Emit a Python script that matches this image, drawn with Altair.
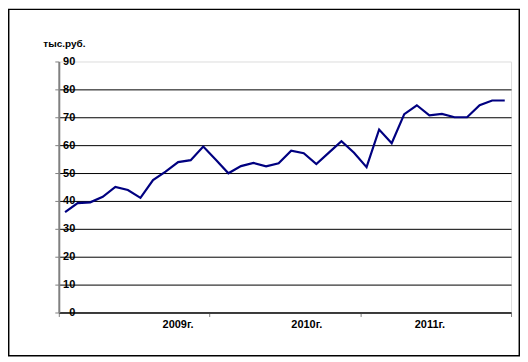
import altair as alt
import pandas as pd

# monthly values, Jan 2009 .. Dec 2011 (thousand roubles)
values = [36.0, 39.2, 39.5, 41.5, 45.0, 43.9, 41.1, 47.5, 50.5, 53.9, 54.6, 59.5,
          54.8, 49.9, 52.5, 53.6, 52.4, 53.5, 58.0, 57.1, 53.2, 57.3, 61.4, 57.3,
          52.1, 65.6, 60.7, 71.1, 74.3, 70.7, 71.2, 70.0, 70.0, 74.3, 76.0, 76.0]
months = [i + 0.5 for i in range(len(values))]

year_labels = ["2009г.", "2010г.", "2011г."]
year_label_pos = [9.45, 19.7, 29.5]
year_ticks = [0, 12, 24, 36]

df = pd.DataFrame({"m": months, "v": values})

label_expr = ("datum.value == {0} ? '{3}' : datum.value == {1} ? '{4}' : "
              "datum.value == {2} ? '{5}' : ''").format(*year_label_pos, *year_labels)
tick_test = " || ".join("datum.value == %s" % t for t in year_ticks)

x_axis = alt.Axis(
    values=sorted(year_ticks + year_label_pos),
    labelExpr=label_expr,
    grid=False,
    tickSize=4,
    tickColor={"condition": {"test": tick_test, "value": "#808080"}, "value": "transparent"},
    domainColor="black",
    domainWidth=1,
    labelFont="Liberation Sans",
    labelFontWeight="bold",
    labelFontSize=11,
    labelColor="black",
    labelPadding=2,
    labelAngle=0,
    title=None,
)

y_axis = alt.Axis(
    values=list(range(0, 91, 10)),
    grid=True,
    gridColor={"condition": {"test": "datum.value == 90", "value": "transparent"}, "value": "black"},
    gridWidth=1,
    tickSize=4,
    tickColor="#808080",
    domainColor="#808080",
    domainWidth=2,
    labelAlign="right",
    labelBaseline="middle",
    labelPadding=-20,
    labelFont="Liberation Sans",
    labelFontWeight="bold",
    labelFontSize=11,
    labelColor="black",
    title="тыс.руб.",
    titleAngle=0,
    titleAlign="left",
    titleBaseline="alphabetic",
    titleX=-16,
    titleY=-15,
    titleFont="Liberation Sans",
    titleFontWeight="bold",
    titleFontSize=10,
    titleColor="black",
)

line = alt.Chart(df).mark_line(color="#000080", strokeWidth=2.2).encode(
    x=alt.X("m:Q", scale=alt.Scale(domain=[0, 36], nice=False, zero=False), axis=x_axis),
    y=alt.Y("v:Q", scale=alt.Scale(domain=[0, 90], nice=False), axis=y_axis),
)

frame = alt.Chart(pd.DataFrame({"a": [0]})).mark_rect(
    fillOpacity=0, stroke="black", strokeWidth=1.5
).encode(
    x=alt.value(-50.3), x2=alt.value(462.3), y=alt.value(-52.3), y2=alt.value(295.5)
)

chart = alt.layer(line, frame).properties(
    width=454,
    height=252,
    padding={"left": 51, "top": 53, "right": 9, "bottom": 44},
    autosize=alt.AutoSizeParams(type="none"),
).configure_view(stroke="#808080", strokeWidth=1).configure(background="white")

chart.save("out.html", embed_options={"renderer": "svg", "actions": False})
